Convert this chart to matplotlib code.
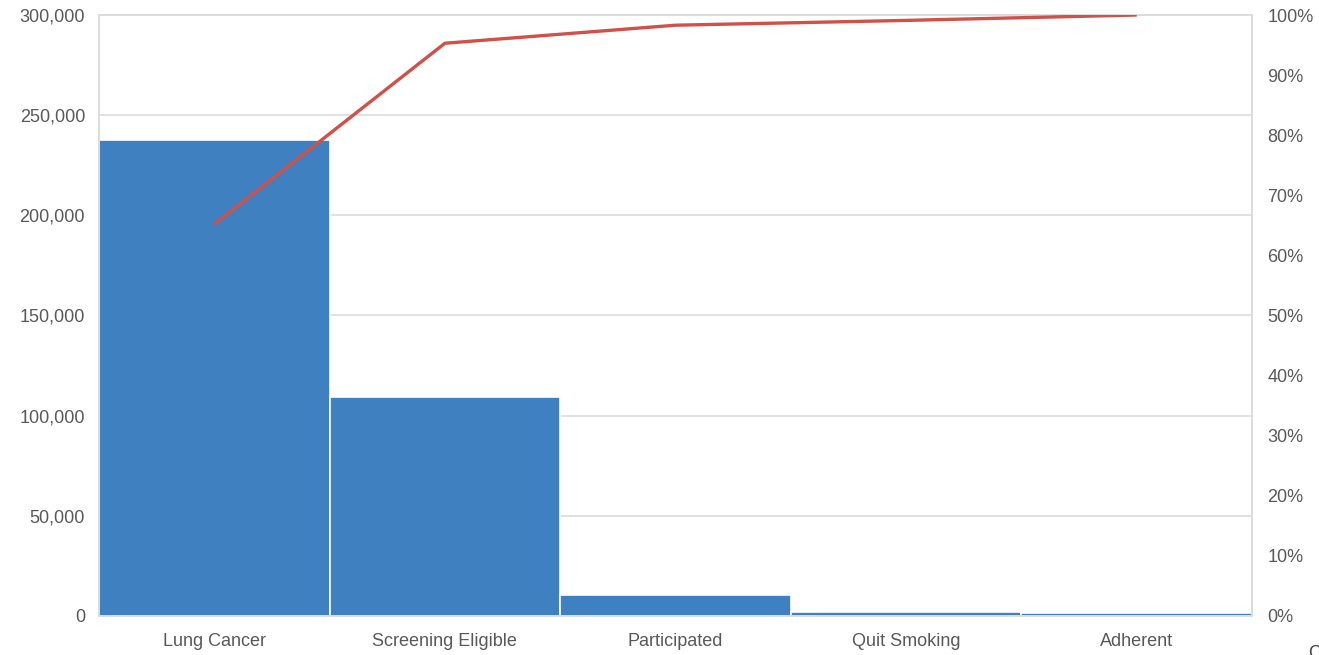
import matplotlib
matplotlib.use("Agg")
import matplotlib.pyplot as plt
from matplotlib.ticker import FuncFormatter, PercentFormatter

categories = ["Lung Cancer", "Screening Eligible", "Participated", "Quit Smoking", "Adherent"]
counts = [237600, 109300, 10500, 2200, 1400]
cumulative_pct = [65.2, 95.3, 98.3, 99.1, 100.0]

plt.rcParams['font.family'] = ['Liberation Sans', 'DejaVu Sans']

fig = plt.figure(figsize=(13.19, 6.55), dpi=100)
ax = fig.add_axes([99/1319, 39/655, (1252-99)/1319, (616-15)/655])

bar_color = "#3f80c0"
grid_color = "#dcdcdc"
text_color = "#595959"
fs = 13

x = list(range(len(categories)))
ax.bar(x, counts, width=1.0, color=bar_color, edgecolor="white", linewidth=1.2, zorder=2)
ax.set_xlim(-0.5, len(categories) - 0.5)
ax.set_ylim(0, 300000)
ax.set_yticks(range(0, 300001, 50000))
ax.yaxis.set_major_formatter(FuncFormatter(lambda v, p: f"{int(v):,}"))
ax.grid(axis="y", color=grid_color, linewidth=1.2, zorder=0)
ax.set_axisbelow(True)
ax.set_xticks(x)
ax.set_xticklabels(categories)
ax.tick_params(axis="both", length=0, labelsize=fs, colors=text_color)
ax.tick_params(axis="y", pad=10)
ax.tick_params(axis="x", pad=12)
for s in ax.spines.values():
    s.set_color(grid_color)
    s.set_linewidth(1.2)

ax2 = ax.twinx()
ax2.plot(x, cumulative_pct, color="#d0504a", linewidth=2.4, solid_capstyle="butt", zorder=3)
ax2.set_ylim(0, 100)
ax2.set_yticks(range(0, 101, 10))
ax2.yaxis.set_major_formatter(PercentFormatter(decimals=0))
ax2.tick_params(axis="y", length=0, labelsize=fs, colors=text_color, pad=11)
for s in ax2.spines.values():
    s.set_color(grid_color)
    s.set_linewidth(1.2)

fig.text(1308/1319, 1 - 662/655, "C", fontsize=13, color="#404040", ha="left", va="bottom")

fig.savefig("out.png", dpi=100)
